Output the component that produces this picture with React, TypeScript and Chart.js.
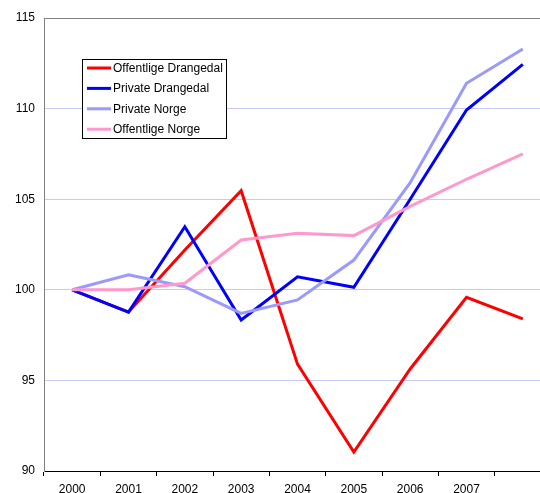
import React, { useEffect, useRef } from "react";
import { Chart, registerables } from "chart.js";

Chart.register(...registerables);

const categories = ["2000", "2001", "2002", "2003", "2004", "2005", "2006", "2007", ""];
const offentligeDrangedal = [100, 98.77, 102.2, 105.47, 95.9, 91.05, 95.63, 99.59, 98.39];
const privateDrangedal = [100, 98.77, 103.48, 98.33, 100.72, 100.14, 105.0, 109.92, 112.44];
const privateNorge = [100, 100.83, 100.17, 98.7, 99.44, 101.64, 105.91, 111.4, 113.29];
const offentligeNorge = [100, 100.0, 100.36, 102.75, 103.12, 102.99, 104.6, 106.1, 107.5];
const seriesNames = ["Offentlige Drangedal", "Private Drangedal", "Private Norge", "Offentlige Norge"];
const seriesColors = ["#FF0000", "#0000FF", "#9999FF", "#FF99CC"];
const yMin = 90;
const yMax = 115;
const yStep = 5;

const FONT = "'Liberation Sans', Arial, sans-serif";

const legendPlugin = {
  id: "boxLegend",
  afterDraw(chart: any) {
    const ctx = chart.ctx;
    ctx.save();
    const x0 = 82.5, y0 = 59.5, w = 144, h = 79;
    ctx.fillStyle = "#FFFFFF";
    ctx.fillRect(x0, y0, w, h);
    ctx.strokeStyle = "#000000";
    ctx.lineWidth = 1;
    ctx.strokeRect(x0, y0, w, h);
    chart.data.datasets.forEach((ds: any, i: number) => {
      const y = 68 + i * 20.4;
      ctx.strokeStyle = ds.borderColor;
      ctx.lineWidth = 3;
      ctx.beginPath();
      ctx.moveTo(87, y);
      ctx.lineTo(111, y);
      ctx.stroke();
      ctx.fillStyle = "#000000";
      ctx.font = "12px " + FONT;
      ctx.textBaseline = "middle";
      ctx.textAlign = "left";
      ctx.fillText(ds.label, 113, y + 0.5);
    });
    ctx.restore();
  },
};

export default function App() {
  const ref = useRef<HTMLCanvasElement | null>(null);
  useEffect(() => {
    if (!ref.current) return;
    const values = [offentligeDrangedal, privateDrangedal, privateNorge, offentligeNorge];
    const chart = new Chart(ref.current, {
      type: "line",
      data: {
        labels: categories,
        datasets: values.map((v, i) => ({
          label: seriesNames[i],
          data: v,
          borderColor: seriesColors[i],
          backgroundColor: seriesColors[i],
          borderWidth: 3,
          pointRadius: 0,
          tension: 0,
          fill: false,
          order: 4 - i,
        })),
      },
      options: {
        responsive: false,
        animation: false,
        devicePixelRatio: 1,
        layout: { padding: { top: 18, left: 0, right: 0, bottom: 0 } },
        plugins: { legend: { display: false }, tooltip: { enabled: false } },
        scales: {
          x: {
            type: "category",
            offset: true,
            grid: {
              offset: true,
              drawOnChartArea: false,
              drawTicks: true,
              tickLength: 5,
              color: "#000000",
            },
            border: { display: true, color: "#000000", width: 1 },
            ticks: {
              color: "#000000",
              font: { family: FONT, size: 12 },
              padding: 6,
              maxRotation: 0,
              autoSkip: false,
            },
            afterFit: (scale: any) => {
              scale.height = 22;
            },
          },
          y: {
            min: yMin,
            max: yMax,
            grid: {
              drawTicks: false,
              color: (c: any) => (c.tick && c.tick.value === yMax ? "#808080" : "#C8C8FF"),
              lineWidth: 1,
            },
            border: { display: true, color: "#808080", width: 1 },
            ticks: {
              stepSize: yStep,
              color: "#000000",
              font: { family: FONT, size: 12 },
              padding: 9,
            },
            afterFit: (scale: any) => {
              scale.width = 44;
            },
          },
        },
      },
      plugins: [legendPlugin],
    });
    return () => chart.destroy();
  }, []);
  return (
    <div
      style={{
        position: "fixed",
        left: 0,
        top: 0,
        width: 540,
        height: 493,
        overflow: "hidden",
        background: "#FFFFFF",
      }}
    >
      <canvas ref={ref} width={551} height={493} style={{ display: "block" }} />
    </div>
  );
}
